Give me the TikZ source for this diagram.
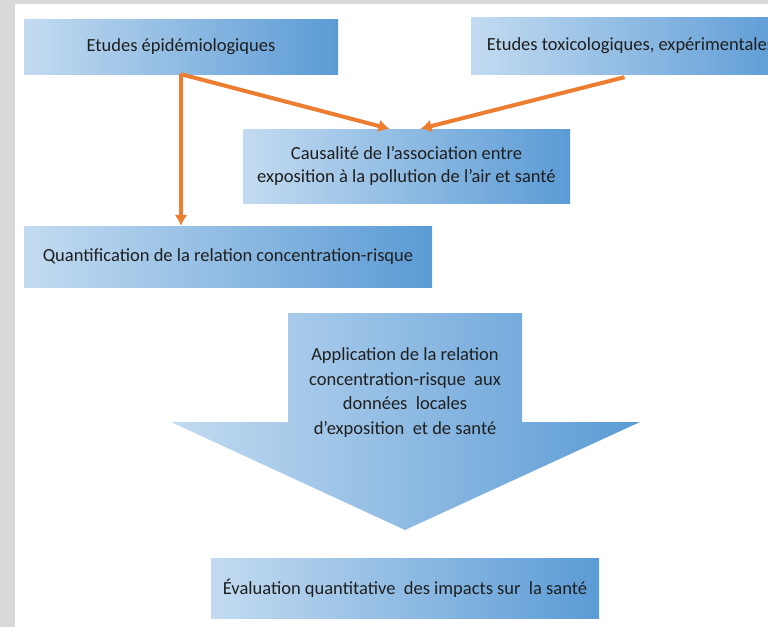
\documentclass[tikz,border=0pt]{standalone}
\usepackage{fontspec}
\setmainfont{Carlito}
\usetikzlibrary{arrows.meta,calc}
\definecolor{boxlight}{HTML}{C3DBF1}
\definecolor{boxdark}{HTML}{5B9BD5}
\definecolor{arrorange}{HTML}{ED7D31}
\definecolor{txtgray}{HTML}{1F1F1F}
\definecolor{framegray}{HTML}{D9D9D9}
\begin{document}
\begin{tikzpicture}[x=1pt,y=-1pt,
  every path/.style={>={Latex[length=11pt,width=13pt]}},
  box/.style={rectangle,inner sep=0pt,left color=boxlight,right color=boxdark,
    text=txtgray,align=center,font=\fontsize{18.5}{22.4}\selectfont},
  link/.style={->,draw=arrorange,line width=4pt}]
\useasboundingbox (0,0) rectangle (768,627);
\fill[framegray] (0,0) rectangle (768,627);
\fill[white] (15,4) rectangle (768,627);
\node[box,minimum width=314pt,minimum height=55pt] (epi)   at (181,46.5) {Etudes épidémiologiques};
\node[box,minimum width=319pt,minimum height=57pt] (tox)   at (630.5,45.5) {Etudes toxicologiques, expérimentales};
\node[box,minimum width=327pt,minimum height=74pt] (caus)  at (406.5,166) {Causalité de l’association entre\\exposition à la pollution de l’air et santé};
\node[box,minimum width=408pt,minimum height=61pt] (quant) at (228,256.5) {Quantification de la relation concentration-risque};
% big arrow
\path[left color=boxlight,right color=boxdark] (288,313) -- (522,313) -- (522,422) -- (640,422)
  -- (405,530) -- (171,422) -- (288,422) -- cycle;
\node[text=txtgray,align=center,font=\fontsize{18.5}{24.4}\selectfont] (appl) at (405,392.5)
  {Application de la relation\\concentration-risque~ aux\\données~ locales\\d’exposition~ et de santé};
\node[box,minimum width=388pt,minimum height=60pt] (eval)  at (405,588) {Évaluation quantitative~ des impacts sur~ la santé};
\draw[link] (epi.south) -- (epi.south |- quant.north);
\draw[link] (epi.south) -- ($(caus.north)+(-17,0)$);
\draw[link] ($(tox.south)+(-6,3)$) -- ($(caus.north)+(14,0)$);
\end{tikzpicture}
\end{document}
